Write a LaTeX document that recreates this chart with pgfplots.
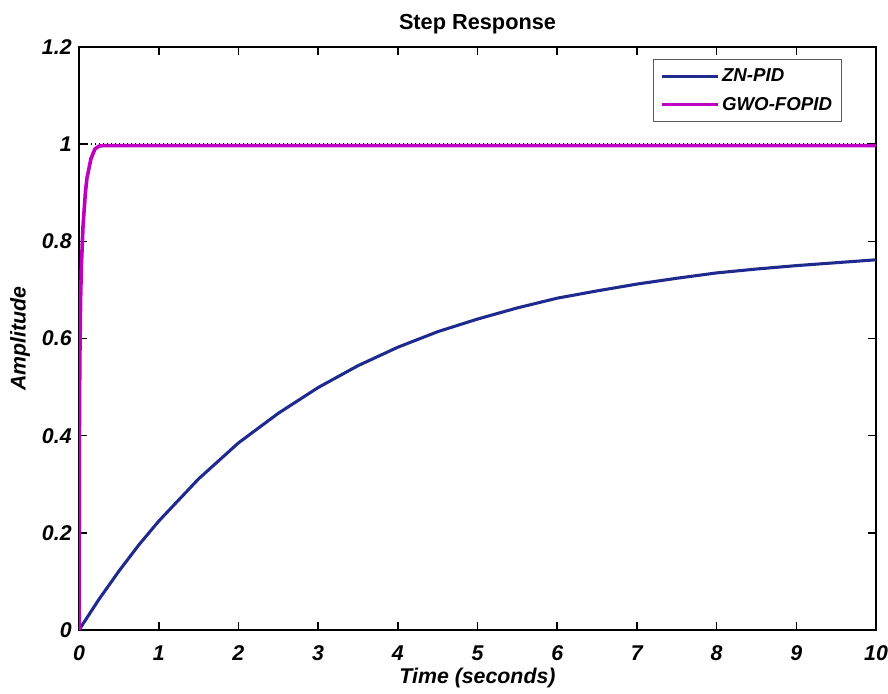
\documentclass[border=0pt]{standalone}
\usepackage{pgfplots}
\pgfplotsset{compat=1.18}
\usepackage{fontspec}
\setmainfont{Liberation Sans}
\definecolor{znblue}{RGB}{31,42,143}
\definecolor{gwomag}{RGB}{192,0,192}
\begin{document}
\begin{tikzpicture}
\path[use as bounding box] (-59.25pt,-47.25pt) rectangle (606.75pt,472.5pt);
\begin{axis}[
  at={(0,0)}, anchor=south west,
  scale only axis,
  width=597.75pt, height=437.25pt,
  xmin=0, xmax=10, ymin=0, ymax=1.2,
  xtick={0,1,...,10},
  ytick={0,0.2,0.4,0.6,0.8,1,1.2},
  yticklabels={0,0.2,0.4,0.6,0.8,1,1.2},
  xticklabels={0,1,2,3,4,5,6,7,8,9,10},
  tick align=inside,
  major tick length=6pt,
  tick style={black, line width=1.2pt},
  axis line style={black, line width=1.5pt},
  /pgf/number format/assume math mode=true,
  ticklabel style={font=\fontsize{16}{18}\selectfont\bfseries\itshape},
  xticklabel style={yshift=-8pt},
  yticklabel style={xshift=-2pt},
  title={Step Response},
  title style={font=\fontsize{16.3}{18}\selectfont\bfseries, yshift=0pt},
  xlabel={Time (seconds)},
  ylabel={Amplitude},
  label style={font=\fontsize{16}{18}\selectfont\bfseries\itshape},
  xlabel style={yshift=1.5pt},
  ylabel style={yshift=2pt},
  legend style={at={(rel axis cs:0.957,0.979)}, anchor=north east,
    draw=gray!70!black, line width=0.6pt, fill=white,
    font=\fontsize{14}{16}\selectfont\bfseries\itshape,
    row sep=6pt, inner xsep=5pt, inner ysep=5pt},
  legend cell align=left,
  legend image code/.code={\draw[#1, line width=2.2pt] (0pt,0pt) -- (42pt,0pt);},
]
\addplot[black, dotted, line width=1pt, forget plot] coordinates {(0,1) (10,1)};
\addplot[znblue, line width=2.3pt] coordinates {
(0,0) (0.25,0.063) (0.5,0.121) (0.75,0.175) (1,0.224) (1.5,0.311) (2,0.385)
(2.5,0.446) (3,0.499) (3.5,0.544) (4,0.582) (4.5,0.614) (5,0.640) (5.5,0.663)
(6,0.683) (6.5,0.698) (7,0.712) (7.5,0.724) (8,0.735) (8.5,0.743) (9,0.750)
(9.5,0.756) (10,0.762)};
\addlegendentry{ZN-PID}
\addplot[gwomag, line width=2.7pt] coordinates {
(0,0) (0.005,0.40) (0.01,0.55) (0.02,0.68) (0.03,0.75) (0.05,0.83) (0.08,0.90)
(0.1,0.93) (0.15,0.97) (0.2,0.99) (0.25,0.996) (0.3,0.997) (10,0.997)};
\addlegendentry{GWO-FOPID}
\end{axis}
\end{tikzpicture}
\end{document}
